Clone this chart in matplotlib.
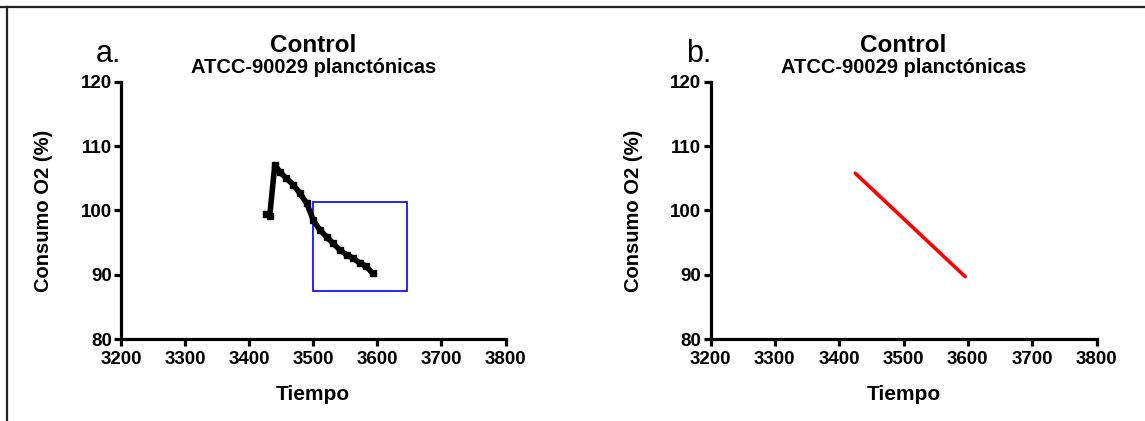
import matplotlib
matplotlib.use("Agg")
import matplotlib.pyplot as plt
from matplotlib.lines import Line2D
from matplotlib.patches import Rectangle

plt.rcParams['font.family'] = ['Liberation Sans', 'DejaVu Sans']

# Panel a data (black trace)
tiempo_a = [3427, 3432, 3440, 3448, 3458, 3469, 3479, 3490, 3500, 3510,
            3521, 3531, 3542, 3552, 3562, 3573, 3583, 3593]
consumo_a = [99.5, 99.1, 107.1, 106.0, 105.0, 104.0, 102.7, 101.1, 98.5, 97.0,
             95.9, 94.9, 93.8, 93.1, 92.6, 91.8, 91.3, 90.2]

# Highlight box in panel a (x0, x1, y0, y1)
box_x = [3500, 3646]
box_y = [87.4, 101.4]

# Panel b data (red fitted line)
tiempo_b = [3425, 3596]
consumo_b = [105.8, 89.7]

xticks = [3200, 3300, 3400, 3500, 3600, 3700, 3800]
yticks = [80, 90, 100, 110, 120]
title = "Control"
subtitle = "ATCC-90029 planctónicas"
panel_labels = ["a.", "b."]
xlabel = "Tiempo"
ylabel = "Consumo O2 (%)"

W, H = 1145, 421
fig = plt.figure(figsize=(W / 100, H / 100), dpi=100)

def fx(px):
    return px / W

def fy(py):
    return 1 - py / H

axes_px = [(121, 505.5), (710.5, 1096.5)]
top_px, bot_px = 82, 339

axs = []
for (l, r) in axes_px:
    ax = fig.add_axes([fx(l), fy(bot_px), fx(r - l), (bot_px - top_px) / H])
    ax.set_xlim(3200, 3800)
    ax.set_ylim(80, 120)
    ax.set_xticks(xticks)
    ax.set_yticks(yticks)
    for s in ['top', 'right']:
        ax.spines[s].set_visible(False)
    for s in ['left', 'bottom']:
        ax.spines[s].set_linewidth(2.3)
        ax.spines[s].set_capstyle('projecting')
    ax.tick_params(width=2.3, length=5, labelsize=13.5)
    ax.tick_params(axis='x', pad=4)
    ax.tick_params(axis='y', pad=1.5)
    for lab in ax.get_xticklabels() + ax.get_yticklabels():
        lab.set_fontweight('bold')
    ax.set_facecolor('none')
    axs.append(ax)

    cx = (l + r) / 2
    fig.text(fx(cx), fy(52), title, ha='center', va='baseline',
             fontsize=17.5, fontweight='bold')
    fig.text(fx(cx), fy(73), subtitle, ha='center', va='baseline',
             fontsize=14.5, fontweight='bold')
    fig.text(fx(cx), fy(400), xlabel, ha='center', va='baseline',
             fontsize=15, fontweight='bold')
    fig.text(fx(l - 77), fy((top_px + bot_px) / 2), ylabel, ha='center',
             va='center', rotation=90, fontsize=14.5, fontweight='bold')

fig.text(fx(96), fy(62), panel_labels[0], ha='left', va='baseline', fontsize=22)
fig.text(fx(686), fy(62), panel_labels[1], ha='left', va='baseline', fontsize=22)

ax_a, ax_b = axs
ax_a.plot(tiempo_a, consumo_a, color='black', lw=4, marker='s', ms=5,
          solid_joinstyle='round', solid_capstyle='round', clip_on=False)
ax_a.add_patch(Rectangle((box_x[0], box_y[0]), box_x[1] - box_x[0],
                         box_y[1] - box_y[0], fill=False, edgecolor='#0000ff',
                         lw=1.2))
ax_b.plot(tiempo_b, consumo_b, color='#ff0000', lw=2.6, solid_capstyle='round')

# outer border (top and left)
fig.add_artist(Line2D([0, 1], [fy(7), fy(7)], transform=fig.transFigure,
                      color='#222222', lw=1.6))
fig.add_artist(Line2D([fx(7), fx(7)], [0, fy(7)], transform=fig.transFigure,
                      color='#222222', lw=1.6))

fig.savefig("out.png", dpi=100, facecolor='white')
